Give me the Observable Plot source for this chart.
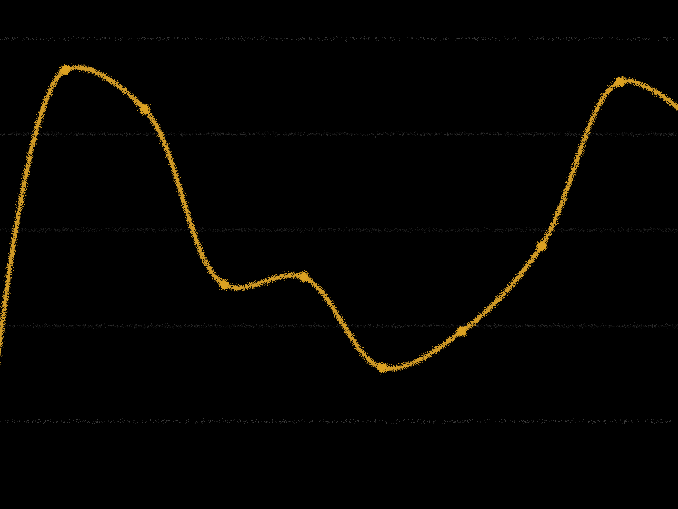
<!DOCTYPE html>
<html>
<head>
<meta charset="utf-8">
<script src="https://cdn.jsdelivr.net/npm/d3@7"></script>
<script src="https://cdn.jsdelivr.net/npm/@observablehq/plot@0.6"></script>
<style>
  html, body { margin: 0; padding: 0; background: #000; }
  #chart svg { display: block; background: #000; }
</style>
</head>
<body>
<div id="chart"></div>
<script>
// Data: index positions and values (edge points lie just outside the view)
const steps = [0, 1, 2, 3, 4, 5, 6, 7, 8, 9];
const values = [4.9, 46.7, 42.6, 24.3, 25.1, 15.6, 19.4, 28.3, 45.5, 40.9];
const gridTicks = [10, 20, 30, 40, 50];

const data = steps.map((s, i) => ({ step: s, value: values[i] }));
const visible = data.slice(1, 9);

const lineColor = "#d09a28";

const chart = Plot.plot({
  width: 678,
  height: 509,
  margin: 0,
  style: { background: "#000" },
  x: { domain: [0.18, 8.73], axis: null },
  y: { domain: [0.81, 53.97], axis: null },
  marks: [
    Plot.ruleY(gridTicks, { stroke: "#4a4a4a", strokeWidth: 1.2, strokeDasharray: "1.5,1.5", strokeOpacity: 0.8 }),
    Plot.line(data, { x: "step", y: "value", curve: "catmull-rom", stroke: lineColor, strokeWidth: 4.5, clip: true }),
    Plot.dot(visible, { x: "step", y: "value", r: 5, fill: "#dca220", stroke: "none" })
  ]
});

// grain filter
const svg = d3.select(chart);
const defs = svg.insert("defs", ":first-child");
const f = defs.append("filter").attr("id", "grain").attr("x", "-10%").attr("y", "-10%").attr("width", "120%").attr("height", "120%");
f.append("feTurbulence").attr("type", "fractalNoise").attr("baseFrequency", 1.1).attr("numOctaves", 2).attr("seed", 3).attr("result", "noise");
f.append("feDisplacementMap").attr("in", "SourceGraphic").attr("in2", "noise").attr("scale", 8).attr("xChannelSelector", "R").attr("yChannelSelector", "G");
svg.selectAll("g[aria-label='rule'], g[aria-label='line'], g[aria-label='dot']").attr("filter", "url(#grain)");

document.getElementById("chart").appendChild(chart);
</script>
</body>
</html>
